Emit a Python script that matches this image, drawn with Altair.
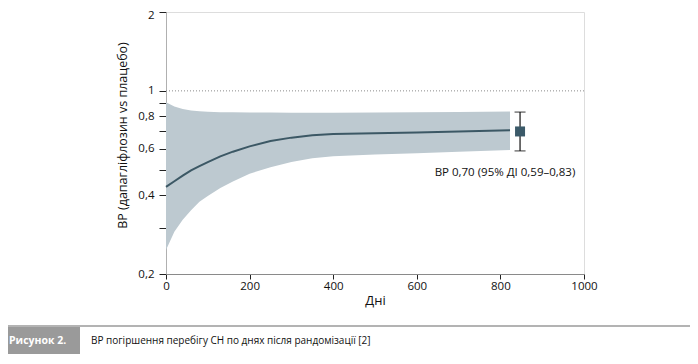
import altair as alt
import pandas as pd

# ---- data ----
days = [0, 20, 40, 60, 80, 100, 130, 160, 200, 250, 300, 350, 400, 500, 600, 700, 823]
hr = [0.430, 0.452, 0.475, 0.497, 0.516, 0.535, 0.562, 0.586, 0.614, 0.644, 0.663, 0.677, 0.685, 0.689, 0.693, 0.699, 0.708]
lower = [0.247, 0.290, 0.322, 0.350, 0.377, 0.397, 0.426, 0.451, 0.483, 0.511, 0.535, 0.553, 0.563, 0.572, 0.578, 0.586, 0.595]
upper = [0.905, 0.872, 0.853, 0.842, 0.836, 0.832, 0.829, 0.828, 0.826, 0.826, 0.825, 0.825, 0.825, 0.826, 0.828, 0.831, 0.834]

overall_x = [847]
overall_hr = [0.70]
overall_lo = [0.59]
overall_hi = [0.83]

annotation = ["ВР 0,70 (95% ДІ 0,59–0,83)"]
annotation_x = [811]
annotation_y = [0.488]

x_ticks = [0, 200, 400, 600, 800, 1000]
y_ticks = [0.2, 0.3, 0.4, 0.5, 0.6, 0.7, 0.8, 0.9, 1, 2]

x_title = "Дні"
y_title = "ВР (дапагліфлозин vs плацебо)"
fig_label = "Рисунок 2."
fig_caption = "ВР погіршення перебігу СН по днях після рандомізації [2]"

FONT = "Open Sans"
W, H = 418, 262
PAD_L, PAD_T, PAD_R, PAD_B = 158, 4, 106, 80

curve = pd.DataFrame({"day": days, "hr": hr, "lo": lower, "hi": upper})
overall = pd.DataFrame({"day": overall_x, "hr": overall_hr, "lo": overall_lo, "hi": overall_hi})
ann = pd.DataFrame({"day": annotation_x, "y": annotation_y, "t": annotation})

xscale = alt.Scale(domain=[0, 1000], nice=False, zero=False)
yscale = alt.Scale(type="log", domain=[0.2, 2], nice=False)

xaxis = alt.Axis(
    values=x_ticks, title=x_title, grid=False, domainColor="#8a8a8a", tickColor="#222",
    tickSize=5, labelPadding=1, labelFontSize=11.5, labelColor="#111", labelFont=FONT,
    format="d",
    titleFont=FONT, titleFontSize=13, titleFontWeight="normal", titleColor="#111",
    titlePadding=3, labelFlush=False,
)
yaxis = alt.Axis(
    values=y_ticks, title=y_title, grid=False, domainColor="#b0b0b0", tickColor="#222",
    tickSize=7, labelPadding=5, labelFontSize=11.5, labelColor="#111", labelFont=FONT,
    labelExpr="test(/^(0\\.[2468]|1|2)$/, datum.label) ? replace(datum.label, '.', ',') : ''",
    labelOffset={"condition": {"test": "datum.value == 2", "value": 3.5}, "value": 0},
    format="~g", titleFont=FONT, titleFontSize=12.5, titleFontWeight="normal",
    titleColor="#111", titlePadding=8, titleY=123, labelFlush=False,
)

band = alt.Chart(curve).mark_area(color="#bdc9d0", opacity=1).encode(
    x=alt.X("day:Q", scale=xscale, axis=xaxis),
    y=alt.Y("lo:Q", scale=yscale, axis=yaxis),
    y2="hi:Q",
)
line = alt.Chart(curve).mark_line(color="#3c5865", strokeWidth=2).encode(
    x=alt.X("day:Q", scale=xscale), y=alt.Y("hr:Q", scale=yscale)
)
ref = alt.Chart(pd.DataFrame({"y": [1]})).mark_rule(
    color="#8a8a8a", strokeDash=[1, 2], strokeWidth=1
).encode(y=alt.Y("y:Q", scale=yscale))

err = alt.Chart(overall).mark_rule(color="#111", strokeWidth=1.2).encode(
    x=alt.X("day:Q", scale=xscale), y=alt.Y("lo:Q", scale=yscale), y2="hi:Q"
)
cap_lo = alt.Chart(overall).mark_tick(color="#111", orient="horizontal", size=11, thickness=1.2).encode(
    x=alt.X("day:Q", scale=xscale), y=alt.Y("lo:Q", scale=yscale)
)
cap_hi = alt.Chart(overall).mark_tick(color="#111", orient="horizontal", size=11, thickness=1.2).encode(
    x=alt.X("day:Q", scale=xscale), y=alt.Y("hi:Q", scale=yscale)
)
square = alt.Chart(overall).mark_square(color="#3b5a69", size=100, opacity=1, filled=True).encode(
    x=alt.X("day:Q", scale=xscale), y=alt.Y("hr:Q", scale=yscale)
)
text = alt.Chart(ann).mark_text(font=FONT, fontSize=11.5, color="#111", align="center", baseline="middle").encode(
    x=alt.X("day:Q", scale=xscale), y=alt.Y("y:Q", scale=yscale), text="t:N"
)

# ---- caption strip below the chart ----
cap_df = pd.DataFrame({"a": [fig_label], "b": [fig_caption]})
cap_line = alt.Chart(cap_df).mark_rule(color="#9a9a9a", strokeWidth=1.5).encode(
    x=alt.value(-PAD_L), x2=alt.value(W + PAD_R), y=alt.value(314)
)
cap_box = alt.Chart(cap_df).mark_rect(color="#9a9a9a").encode(
    x=alt.value(-PAD_L), x2=alt.value(80 - 166), y=alt.value(315), y2=alt.value(342)
)
cap_label = alt.Chart(cap_df).mark_text(
    font=FONT, fontSize=10.5, fontWeight="bold", color="white", align="left", baseline="middle"
).encode(x=alt.value(-157), y=alt.value(329), text="a:N")
cap_text = alt.Chart(cap_df).mark_text(
    font=FONT, fontSize=10, color="#111", align="left", baseline="middle"
).encode(x=alt.value(91 - 166), y=alt.value(329), text="b:N")

chart = alt.layer(
    band, line, ref, err, cap_lo, cap_hi, square, text, cap_line, cap_box, cap_label, cap_text
).properties(
    width=W, height=H,
    autosize=alt.AutoSizeParams(type="none"),
    padding={"left": PAD_L, "top": PAD_T, "right": PAD_R, "bottom": PAD_B},
).configure_view(stroke=None).configure(background="white")

chart.save("out.html", embed_options={"renderer": "svg", "actions": False})
